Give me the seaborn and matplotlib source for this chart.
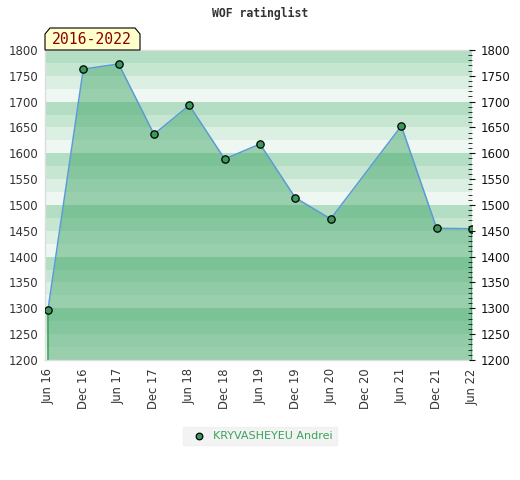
import pandas as pd
import numpy as np
import matplotlib
matplotlib.use("Agg")
import matplotlib.pyplot as plt
import seaborn as sb
from matplotlib.patches import Polygon

# rating snapshots (Dec 20 missing in the list)
dates = ["2016-06", "2016-12", "2017-06", "2017-12", "2018-06", "2018-12",
         "2019-06", "2019-12", "2020-06", "2021-06", "2021-12", "2022-06"]
ratings = [1297, 1763, 1773, 1637, 1693, 1589, 1618, 1514, 1473, 1653, 1455, 1454]
tick_labels = ["Jun 16", "Dec 16", "Jun 17", "Dec 17", "Jun 18", "Dec 18", "Jun 19",
               "Dec 19", "Jun 20", "Dec 20", "Jun 21", "Dec 21", "Jun 22"]
player = "KRYVASHEYEU Andrei"
period = "2016-2022"

sb.set_style("white")
plt.rcParams['font.family'] = ['DejaVu Sans']

d = pd.to_datetime(dates)
df = pd.DataFrame({"month": (d.year - 2016) * 12 + (d.month - 6), "rating": ratings})

fig = plt.figure(figsize=(5.2, 4.8), dpi=100)
ax = fig.add_axes([45 / 520, 120 / 480, 427 / 520, 310 / 480])

# striped background, 4 shades per 100 points
shades = ["#b3dec3", "#c7e6d2", "#dcefe3", "#eef7f1"]
for top in range(1800, 1200, -25):
    ax.axhspan(top - 25, top, color=shades[((1800 - top) // 25) % 4], lw=0, zorder=0)

ax.fill_between(df["month"], df["rating"], 1200, color="#47a86d", alpha=0.5, lw=0, zorder=1)
ax.vlines([df["month"].iloc[0], df["month"].iloc[-1]], 1200,
          [df["rating"].iloc[0], df["rating"].iloc[-1]], color="#3aa35a", lw=1.2, zorder=2)
sb.lineplot(data=df, x="month", y="rating", ax=ax, color="#5b9bd5", lw=1.1, zorder=3)
sb.scatterplot(data=df, x="month", y="rating", ax=ax, color="#3a9a5a", edgecolor="black",
               linewidth=0.9, s=28, zorder=4, label=player)

ax.set_xlim(-0.5, 72)
ax.set_ylim(1200, 1800)
ax.set_xticks(np.arange(0, 73, 6))
ax.set_xticklabels(tick_labels, rotation=90, fontsize=8.3, color="#333333")
ax.set_yticks(np.arange(1200, 1801, 50))
ax.tick_params(axis="y", labelsize=8.5, colors="#333333", length=0, pad=5)
ax.tick_params(axis="x", length=0, pad=6)
ax.set_xlabel("")
ax.set_ylabel("")
for s in ax.spines.values():
    s.set_color("#dddddd")
    s.set_linewidth(1)
ax.spines["right"].set_visible(False)

ax2 = ax.twinx()
ax2.set_ylim(1200, 1800)
ax2.set_yticks(np.arange(1200, 1801, 50))
ax2.set_yticks(np.arange(1200, 1801, 10), minor=True)
ax2.tick_params(axis="y", which="major", labelsize=8.5, colors="#111111", length=4,
                direction="inout", pad=4)
ax2.tick_params(axis="y", which="minor", length=3, direction="in", color="#111111")
ax2.yaxis.set_tick_params(labelcolor="#111111")
for s in ax2.spines.values():
    s.set_visible(False)

fig.text(0.5, 1 - 13 / 480, "WOF ratinglist", ha="center", va="center", fontsize=8.3,
         family="DejaVu Sans Mono", weight="bold", color="#333333")

# period badge
px = [45, 45, 50, 135, 140, 140]
py = [50, 34, 28, 28, 34, 50]
badge = Polygon([(x / 520, 1 - y / 480) for x, y in zip(px, py)], closed=True,
                transform=fig.transFigure, facecolor="#ffffcc", edgecolor="black", lw=0.8)
fig.patches.append(badge)
fig.text(92 / 520, 1 - 40 / 480, period, ha="center", va="center", fontsize=10.6,
         family="DejaVu Sans Mono", color="#8b0000")

leg = ax.legend(loc="center", bbox_to_anchor=(260 / 520, 1 - 436 / 480),
                bbox_transform=fig.transFigure, frameon=True, fontsize=8,
                handletextpad=0.3, borderpad=0.4, markerscale=0.9)
leg.get_frame().set_facecolor("#f0f0f0")
leg.get_frame().set_edgecolor("#f0f0f0")
leg.get_frame().set_boxstyle("square", pad=0)
for t in leg.get_texts():
    t.set_color("#3aa35a")

fig.savefig("out.png", dpi=100)
